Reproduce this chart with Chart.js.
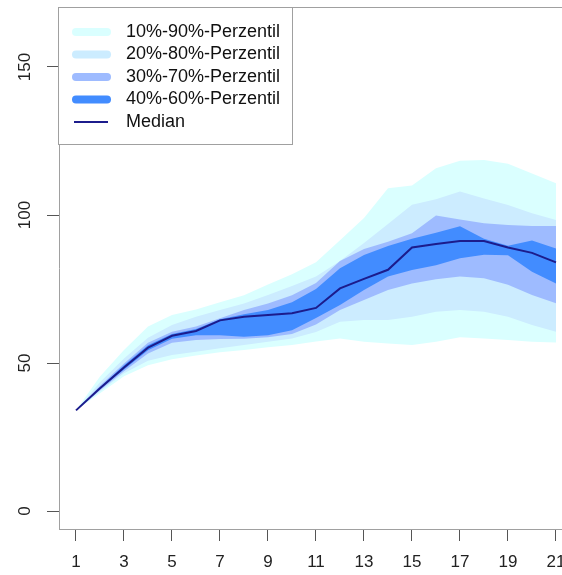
<!DOCTYPE html>
<html>
<head>
<meta charset="utf-8">
<script src="https://cdn.jsdelivr.net/npm/chart.js@4.4.1/dist/chart.umd.min.js"></script>
<style>
  html, body { margin: 0; padding: 0; background: #fff; }
  #wrap { width: 562px; height: 575px; position: relative; overflow: hidden; }
</style>
</head>
<body>
<div id="wrap"><canvas id="chart"></canvas></div>
<script>
// Werte
const steps = [1, 2, 3, 4, 5, 6, 7, 8, 9, 10, 11, 12, 13, 14, 15, 16, 17, 18, 19, 20, 21];
const median = [34, 41.5, 48.5, 55.2, 59.2, 60.8, 64.4, 65.6, 66.2, 66.8, 68.6, 75.2, 78.4, 81.5, 89, 90.2, 91.2, 91.2, 89, 87.2, 84];
const p90 = [34, 45.4, 54.4, 62.3, 66.2, 68.1, 70.5, 72.9, 76.5, 80, 84, 91.5, 99, 109, 110, 115.8, 118.3, 118.6, 117.3, 114, 110.7];
const p80 = [34, 43.5, 51.5, 58.5, 62.8, 65.6, 67.9, 70.1, 73, 76, 79.2, 84.5, 90.5, 97, 103.5, 105.3, 107.9, 105.6, 103.4, 100.6, 98.3];
const p70 = [34, 42.3, 49.8, 56.8, 60.6, 62.3, 65.1, 67.9, 70.1, 72.9, 77, 84.5, 88.5, 91, 93.8, 99.8, 98.5, 97.2, 96.6, 96.3, 96.3];
const p60 = [34, 41.8, 49.2, 56, 59.8, 61.5, 64.8, 66.5, 67.9, 70.5, 75, 82, 86.5, 89.5, 92, 94, 96.2, 92, 89.6, 91.4, 88.7];
const p40 = [34, 41.2, 47.8, 54.3, 58.2, 59.4, 59.4, 58.9, 59.4, 61.1, 65.2, 69.6, 74.7, 79.2, 81.4, 83, 85.4, 86.6, 86.4, 80.8, 76.9];
const p30 = [34, 40.8, 47.2, 53.2, 56.8, 57.8, 58.1, 58.2, 58.7, 59.8, 63, 67.9, 71.3, 74.7, 76.9, 78.3, 79.2, 78.6, 76.4, 73, 70.2];
const p20 = [34, 40.4, 46.5, 50.8, 52.7, 53.8, 55, 56.1, 57.2, 58.3, 60.5, 63.9, 64.5, 64.5, 65.6, 67.3, 67.9, 67.3, 65.6, 62.8, 60.6];
const p10 = [34, 39.8, 45.5, 49.2, 51.3, 52.5, 53.6, 54.4, 55.3, 56.1, 57.3, 58.3, 57.2, 56.6, 56.1, 57.2, 58.7, 58.3, 57.8, 57.2, 56.9];

const xTicks = [1, 3, 5, 7, 9, 11, 13, 15, 17, 19, 21];
const yTicks = [0, 50, 100, 150];

const c1090 = 'rgb(218,255,255)';
const c2080 = 'rgb(204,236,255)';
const c3070 = 'rgb(158,187,255)';
const c4060 = 'rgb(66,140,255)';
const cMedian = 'rgb(28,28,140)';
const FONT = 'Liberation Sans, Arial, sans-serif';

const pts = arr => arr.map((v, i) => ({ x: steps[i], y: v }));

// obere Kante eines Bandes, gefüllt bis zum nächsten Datensatz
const upper = (label, arr, color, order) => ({
    label, data: pts(arr), fill: '+1', backgroundColor: color,
    borderColor: 'transparent', borderWidth: 0, pointRadius: 0, tension: 0, order
});
const lower = (arr, order) => ({
    label: '', data: pts(arr), fill: false,
    borderColor: 'transparent', borderWidth: 0, pointRadius: 0, tension: 0, order
});

const legendItems = [
    { label: '10%-90%-Perzentil', color: c1090, width: 8 },
    { label: '20%-80%-Perzentil', color: c2080, width: 8 },
    { label: '30%-70%-Perzentil', color: c3070, width: 8 },
    { label: '40%-60%-Perzentil', color: c4060, width: 8 },
    { label: 'Median', color: cMedian, width: 2 }
];

// Legende + obere Rahmenlinie
const legendPlugin = {
    id: 'perzentilLegende',
    afterDraw(chart) {
        const ctx = chart.ctx;
        const a = chart.chartArea;
        ctx.save();
        ctx.strokeStyle = '#a0a0a0';
        ctx.lineWidth = 1;
        ctx.beginPath();
        ctx.moveTo(a.left, a.top + 0.5);
        ctx.lineTo(a.right, a.top + 0.5);
        ctx.stroke();

        ctx.fillStyle = '#fff';
        ctx.fillRect(a.left, a.top, 234, 137);
        ctx.strokeRect(a.left - 0.5, a.top + 0.5, 234, 137);

        ctx.font = '18px ' + FONT;
        ctx.textBaseline = 'middle';
        ctx.lineCap = 'round';
        legendItems.forEach((item, i) => {
            const y = 32 + i * 22.5;
            ctx.strokeStyle = item.color;
            ctx.lineWidth = item.width;
            ctx.beginPath();
            if (item.width > 2) { ctx.moveTo(76, y); ctx.lineTo(107, y); }
            else { ctx.lineCap = 'butt'; ctx.moveTo(74, y); ctx.lineTo(108, y); }
            ctx.stroke();
            ctx.fillStyle = '#111';
            ctx.fillText(item.label, 126, y);
        });
        ctx.restore();
    }
};

const ctx = document.getElementById('chart').getContext('2d');
new Chart(ctx, {
    type: 'line',
    data: {
        datasets: [
            { label: 'Median', data: pts(median), borderColor: cMedian, borderWidth: 2,
              pointRadius: 0, fill: false, tension: 0, order: 0 },
            upper('40%-60%-Perzentil', p60, c4060, 1), lower(p40, 1),
            upper('30%-70%-Perzentil', p70, c3070, 2), lower(p30, 2),
            upper('20%-80%-Perzentil', p80, c2080, 3), lower(p20, 3),
            upper('10%-90%-Perzentil', p90, c1090, 4), lower(p10, 4)
        ]
    },
    options: {
        responsive: true,
        maintainAspectRatio: false,
        animation: false,
        layout: { padding: { top: 7, right: 0, left: 0, bottom: 0 } },
        plugins: { legend: { display: false }, tooltip: { enabled: false } },
        scales: {
            x: {
                type: 'linear', min: 0.2917, max: 21.25,
                afterBuildTicks: s => { s.ticks = xTicks.map(v => ({ value: v })); },
                afterFit: s => { s.height = 46; s.paddingLeft = 0; s.paddingRight = 0; },
                grid: { drawOnChartArea: false, drawTicks: true, tickLength: 12, tickColor: '#555' },
                border: { display: true, color: '#a0a0a0' },
                ticks: { color: '#222', padding: 11, maxRotation: 0, font: { family: FONT, size: 17 } }
            },
            y: {
                type: 'linear', min: -6.08, max: 170.27,
                afterBuildTicks: s => { s.ticks = yTicks.map(v => ({ value: v })); },
                afterFit: s => { s.width = 59; s.paddingTop = 0; s.paddingBottom = 0; },
                grid: { drawOnChartArea: false, drawTicks: true, tickLength: 12, tickColor: '#555' },
                border: { display: true, color: '#a0a0a0' },
                ticks: { color: '#222', minRotation: 90, maxRotation: 90, crossAlign: 'center',
                         padding: 8, font: { family: FONT, size: 17 } }
            }
        }
    },
    plugins: [legendPlugin]
});
</script>
</body>
</html>
